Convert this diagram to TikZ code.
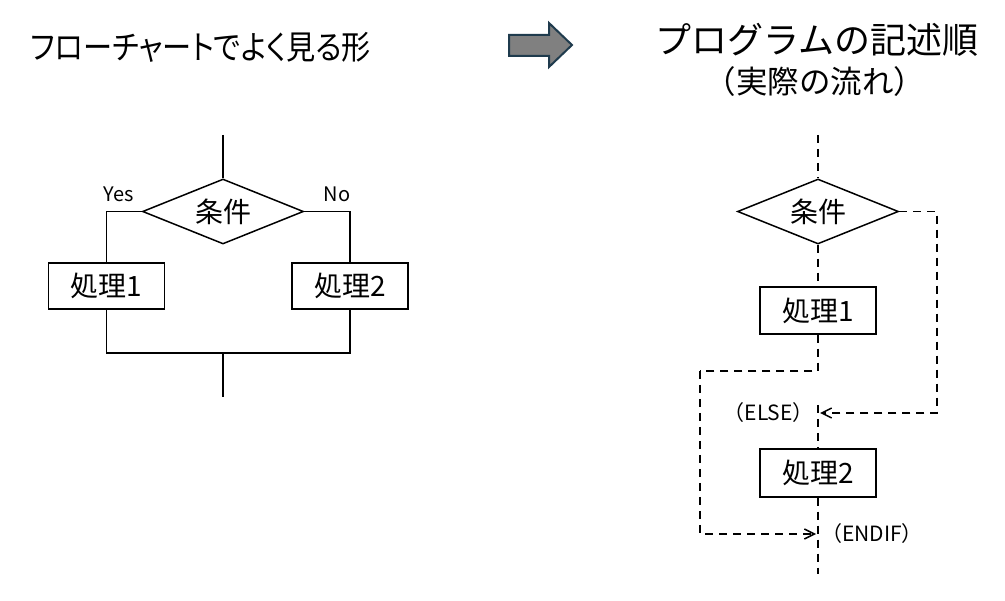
\documentclass[tikz,border=0pt]{standalone}
\usepackage{fontspec}
\setmainfont{Noto Sans CJK JP}
\newfontfamily\jpp{Noto Sans CJK JP}[RawFeature=+palt]
\usetikzlibrary{shapes.geometric,arrows.meta}
\definecolor{arrfill}{HTML}{808080}
\definecolor{arrdraw}{HTML}{1F3B4D}
\tikzset{
  fs/.style={font=\fontsize{#1}{#1}\selectfont},
  procbox/.style={draw, line width=1.5pt, inner sep=0pt, minimum width=116pt, minimum height=46pt, fs=28},
  cond/.style={draw, diamond, line width=1.5pt, inner sep=0pt, aspect=2.4, minimum width=161pt, minimum height=65pt, fs=28},
  solidline/.style={line width=1.5pt},
  dashline/.style={line width=1.5pt, dash pattern=on 8pt off 6pt},
  barb/.style={-{Straight Barb[length=10pt,width=10pt,line width=1.5pt]}},
  lbl/.style={inner sep=0pt, fs=20},
}
\begin{document}
\begin{tikzpicture}[x=1pt,y=-1pt]
\useasboundingbox (0,0) rectangle (1005,601);
% titles
\node[inner sep=0pt, font=\jpp\fontsize{33}{36}\selectfont] (t1) at (201,47) {\scalebox{0.885}[1]{フローチャートでよく見る形}};
\node[inner sep=0pt, fs=36] (t2) at (817,40) {プログラムの記述順};
\node[inner sep=0pt, fs=31.5] (t3) at (815,82) {（実際の流れ）};
% block arrow
\path[fill=arrfill, draw=arrdraw, line width=2pt, line join=miter]
  (509,35) -- (549,35) -- (549,23) -- (572,45) -- (549,67) -- (549,56) -- (509,56) -- cycle;

% ---------- left diagram ----------
\coordinate (ltop) at (223,135);
\node[cond] (ld) at (223,211.5) {条件};
\node[procbox] (lb1) at (106.5,286) {処理1};
\node[procbox] (lb2) at (350,286) {処理2};
\coordinate (ljoin) at (223,353);
\coordinate (lbot) at (223,397);
\node[lbl] (yes) at (119,194) {Yes};
\node[lbl] (no) at (337,194) {No};
\draw[solidline] (ltop) -- (ld.north);
\draw[solidline] (ld.west) -| (lb1.north);
\draw[solidline] (ld.east) -| (lb2.north);
\draw[solidline] (lb1.south) |- (ljoin) -| (lb2.south);
\draw[solidline] (ljoin) -- (lbot);

% ---------- right diagram ----------
\coordinate (rtop) at (818,135);
\node[cond] (rd) at (818,211.5) {条件};
\node[procbox, minimum height=47pt] (rb1) at (818,310.5) {処理1};
\node[procbox, minimum height=48pt] (rb2) at (818,473) {処理2};
\coordinate (else) at (818,413);
\coordinate (endif) at (818,534);
\coordinate (rbot) at (818,574);
\coordinate (rright) at (937,413);
\coordinate (lturn) at (818,371);
\coordinate (lleft) at (700,371);
\node[lbl, fs=21, anchor=east] (elsel) at (814,413) {（ELSE）};
\node[lbl, fs=21, anchor=west] (endifl) at (821,534) {（ENDIF）};
\draw[dashline] (rtop) -- (rd.north);
\draw[dashline] (rd.south) -- (rb1.north);
\draw[dashline, barb] (rd.east) -| (rright) -- ([xshift=2pt]else);
\draw[dashline] ([yshift=8pt]else) -- (rb2.north);
\draw[dashline] (rb1.south) -- (lturn) -- (lleft);
\draw[dashline, barb] (lleft) |- ([xshift=-2pt]endif);
\draw[dashline] (rb2.south) -- (rbot);
\end{tikzpicture}
\end{document}
